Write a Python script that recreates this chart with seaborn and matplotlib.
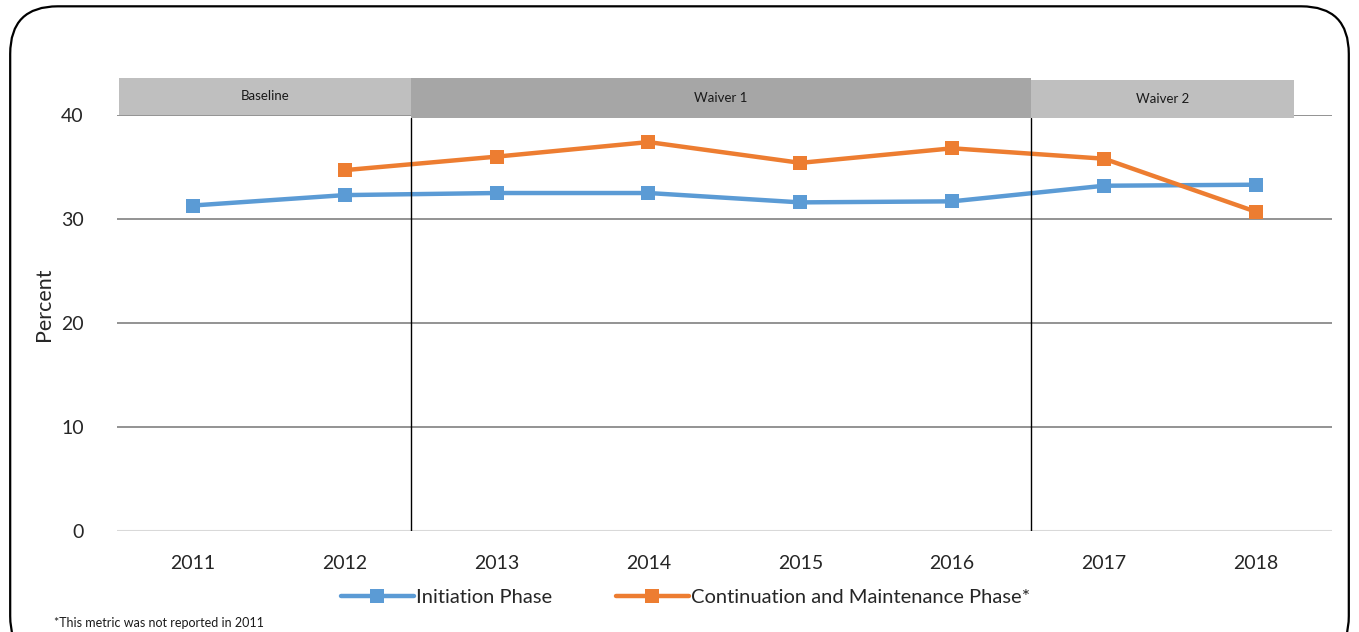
import numpy as np
import pandas as pd
import matplotlib
matplotlib.use("Agg")
import matplotlib.pyplot as plt
import seaborn as sns
from matplotlib.patches import Rectangle, FancyBboxPatch

years = ["2011", "2012", "2013", "2014", "2015", "2016", "2017", "2018"]
initiation = [31.3, 32.3, 32.5, 32.5, 31.6, 31.7, 33.2, 33.3]
continuation = [np.nan, 34.7, 36.0, 37.4, 35.4, 36.8, 35.8, 30.7]

periods = ["Baseline", "Waiver 1", "Waiver 2"]
period_start = [-0.49, 1.435, 5.52]
period_end = [1.435, 5.52, 7.25]
period_colors = ["#bfbfbf", "#a6a6a6", "#bfbfbf"]

BLUE = "#5b9bd5"
ORANGE = "#ed7d31"

sns.set_theme(style="white")
plt.rcParams['font.family'] = ['Lato', 'DejaVu Sans']

df = pd.DataFrame({
    "pos": np.arange(len(years)),
    "Initiation Phase": initiation,
    "Continuation and Maintenance Phase*": continuation,
})

fig = plt.figure(figsize=(13.59, 6.32), dpi=100)
ax = fig.add_axes([0.0861, 0.1598, 0.8939, 0.6582])

sns.lineplot(data=df, x="pos", y="Initiation Phase", ax=ax, color=BLUE,
             linewidth=3.2, marker="s", markersize=10, markeredgewidth=0,
             label="Initiation Phase")
sns.lineplot(data=df.dropna(), x="pos", y="Continuation and Maintenance Phase*", ax=ax,
             color=ORANGE, linewidth=3.2, marker="s", markersize=10, markeredgewidth=0,
             label="Continuation and Maintenance Phase*")

ax.set_xlim(-0.5, 7.5)
ax.set_ylim(0, 40)
ax.set_xticks(np.arange(len(years)))
ax.set_xticklabels(years)
ax.set_yticks([0, 10, 20, 30, 40])
ax.tick_params(axis="y", length=0, pad=24, labelsize=14)
ax.tick_params(axis="x", length=0, pad=17, labelsize=14)
ax.set_xlabel("")
ax.set_ylabel("Percent", fontsize=15.5)
ax.yaxis.set_label_coords(-0.052, 0.545)
for s in ax.spines.values():
    s.set_visible(False)

for v in [10, 20, 30, 40]:
    ax.axhline(v, color="#808080", lw=1.2, zorder=0)
ax.axhline(0, color="#d9d9d9", lw=1.5, zorder=0)

# period bands above the plot
for name, x0, x1, c in zip(periods, period_start, period_end, period_colors):
    top = 43.6 if name != "Waiver 2" else 43.4
    bot = 40.05 if name == "Baseline" else 39.7
    ax.add_patch(Rectangle((x0, bot), x1 - x0, top - bot, facecolor=c,
                           edgecolor="none", clip_on=False, zorder=3))
    ax.text((x0 + x1) / 2, (top + bot) / 2, name, ha="center", va="center",
            fontsize=9.5, color="#1a1a1a", zorder=4, clip_on=False)

for xv in [period_end[0], period_end[1]]:
    ax.plot([xv, xv], [0, 39.7], color="black", lw=1, zorder=2)

ax.legend(loc="upper center", bbox_to_anchor=(0.468, -0.095), ncol=2,
          frameon=False, fontsize=14.5, handlelength=3.6, handletextpad=0.1,
          columnspacing=3.2)

fig.text(0.04, 0.008, "*This metric was not reported in 2011", fontsize=9,
         color="#1a1a1a")

border = FancyBboxPatch((0.0075, -0.05), 0.985, 1.04, transform=fig.transFigure,
                        boxstyle="round,pad=0,rounding_size=0.035",
                        facecolor="none", edgecolor="black", lw=1.6,
                        mutation_aspect=13.59 / 6.32)
fig.patches.append(border)

fig.savefig("out.png", dpi=100)
